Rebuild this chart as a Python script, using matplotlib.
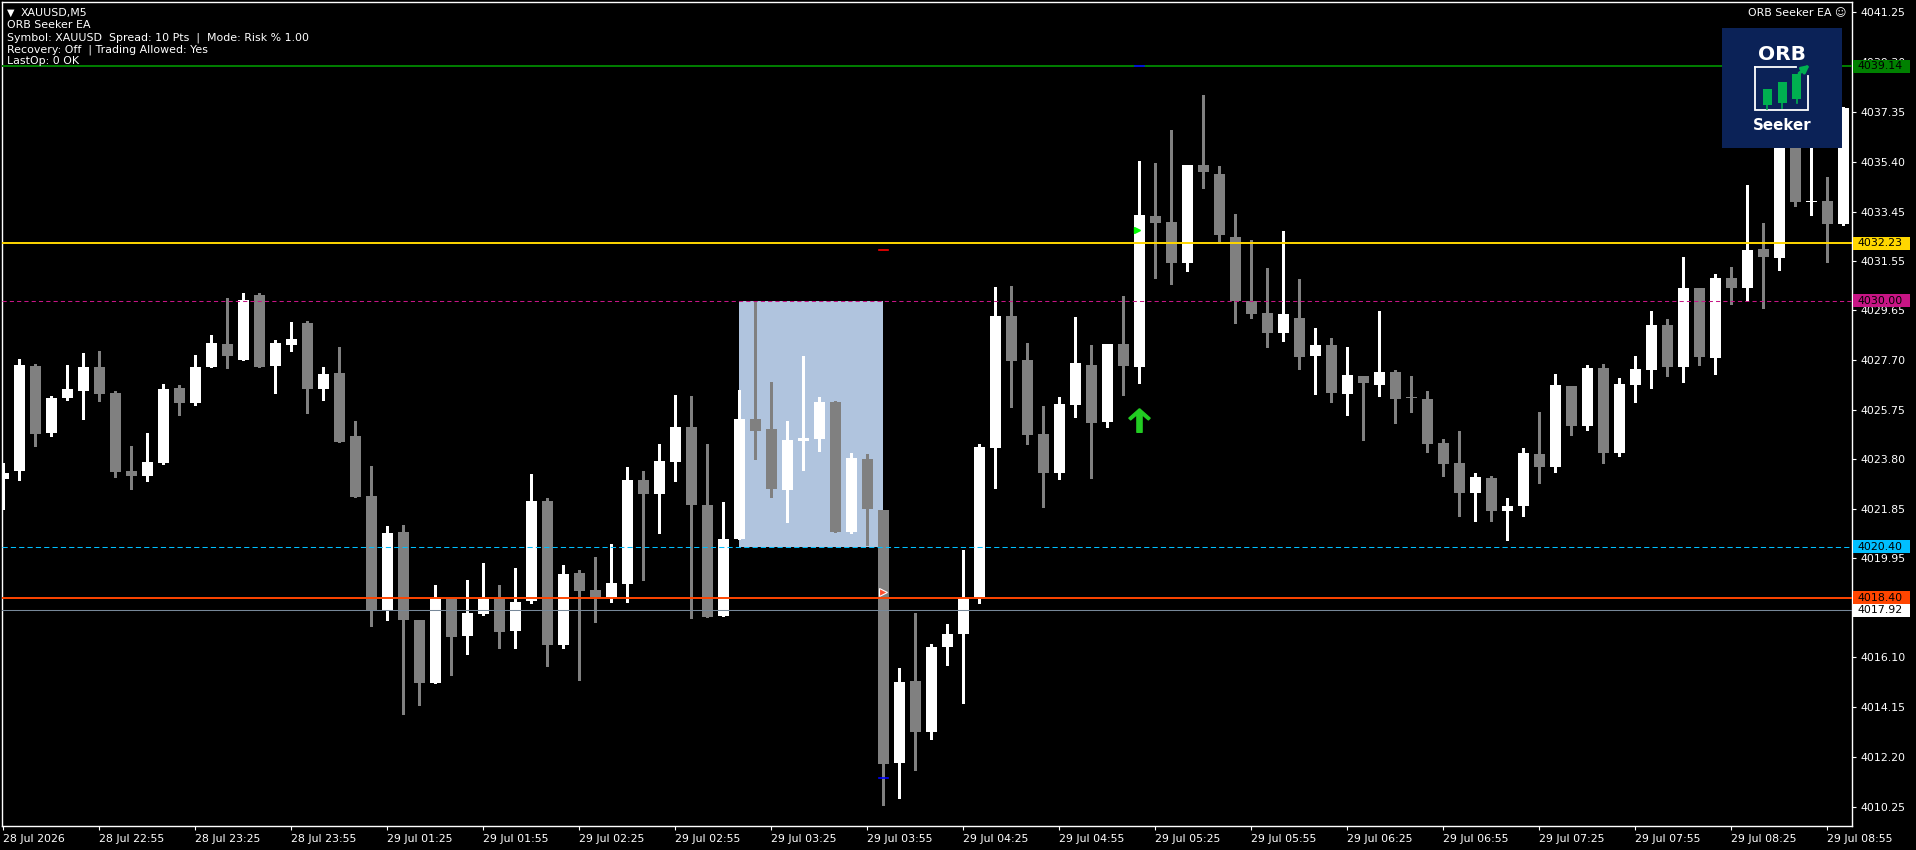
import matplotlib
matplotlib.use("Agg")
import matplotlib.pyplot as plt
import matplotlib.transforms as mtransforms
from matplotlib.patches import Rectangle
from matplotlib.path import Path
import numpy as np

# ---- chart data (XAUUSD M5) ----
opens = [4023.05, 4023.36, 4027.44, 4024.84, 4026.20, 4026.48, 4027.40, 4026.39, 4023.35, 4023.17,
         4023.67, 4026.58, 4026.01, 4027.40, 4028.30, 4027.67, 4030.22, 4027.44, 4028.26, 4029.11,
         4026.54, 4027.17, 4024.71, 4022.37, 4017.92, 4020.97, 4017.54, 4015.09, 4018.36, 4016.93,
         4017.79, 4018.39, 4017.12, 4018.26, 4022.19, 4016.58, 4019.38, 4018.71, 4018.42, 4018.96,
         4023.01, 4022.46, 4023.72, 4025.07, 4022.04, 4017.71, 4020.68, 4025.39, 4024.99, 4022.62,
         4024.54, 4024.61, 4026.05, 4020.99, 4023.83, 4021.83, 4011.97, 4015.16, 4013.15, 4016.47,
         4017.00, 4018.36, 4024.26, 4029.40, 4027.69, 4024.80, 4023.29, 4025.94, 4027.49, 4025.28,
         4028.31, 4027.39, 4033.30, 4033.07, 4031.48, 4035.29, 4034.94, 4032.48, 4029.97, 4029.52,
         4028.74, 4029.32, 4027.84, 4028.27, 4026.37, 4027.06, 4026.72, 4027.20, 4026.20, 4026.16,
         4024.45, 4023.67, 4022.50, 4023.08, 4021.79, 4021.99, 4024.02, 4023.51, 4026.67, 4025.11,
         4027.37, 4024.06, 4026.71, 4027.29, 4029.05, 4027.41, 4030.49, 4027.76, 4030.88, 4030.49,
         4032.02, 4031.66, 4036.90, 4033.84, 4033.89, 4032.99]
highs = [4023.65, 4027.71, 4027.52, 4026.27, 4027.48, 4027.95, 4028.02, 4026.46, 4024.32, 4024.82,
         4026.74, 4026.70, 4027.87, 4028.65, 4030.10, 4030.30, 4030.30, 4028.45, 4029.15, 4029.19,
         4027.40, 4028.18, 4025.30, 4023.54, 4021.20, 4021.24, 4017.54, 4018.91, 4018.36, 4019.10,
         4019.76, 4018.90, 4019.57, 4023.24, 4022.30, 4019.68, 4019.48, 4020.00, 4020.50, 4023.51,
         4023.35, 4024.40, 4026.32, 4026.28, 4024.40, 4022.14, 4026.51, 4030.00, 4026.83, 4025.31,
         4027.84, 4026.24, 4026.09, 4024.06, 4024.02, 4021.83, 4015.67, 4017.82, 4016.60, 4017.40,
         4020.27, 4024.41, 4030.53, 4030.57, 4028.35, 4025.89, 4026.24, 4029.36, 4028.27, 4028.31,
         4030.18, 4035.45, 4035.37, 4036.66, 4035.29, 4038.02, 4035.25, 4033.38, 4032.37, 4031.27,
         4032.72, 4030.85, 4028.93, 4028.54, 4028.19, 4027.06, 4029.60, 4027.29, 4027.06, 4026.48,
         4024.60, 4024.91, 4023.28, 4023.16, 4022.30, 4024.25, 4025.66, 4027.14, 4026.67, 4027.49,
         4027.53, 4026.98, 4027.84, 4029.60, 4029.28, 4031.70, 4030.49, 4031.04, 4031.31, 4034.51,
         4033.03, 4037.60, 4037.90, 4036.30, 4034.83, 4037.55]
lows = [4021.88, 4023.00, 4024.33, 4024.72, 4026.13, 4025.39, 4026.09, 4023.13, 4022.66, 4022.97,
        4023.63, 4025.53, 4025.93, 4027.40, 4027.36, 4027.67, 4027.40, 4026.40, 4028.02, 4025.61,
        4026.11, 4024.48, 4022.33, 4017.31, 4017.54, 4013.88, 4014.23, 4015.09, 4015.40, 4016.22,
        4017.74, 4016.46, 4016.46, 4018.19, 4015.75, 4016.46, 4015.18, 4017.46, 4018.24, 4018.24,
        4019.11, 4020.95, 4022.98, 4017.63, 4017.67, 4017.71, 4020.68, 4023.83, 4022.32, 4021.38,
        4023.40, 4024.14, 4020.99, 4020.95, 4020.45, 4010.32, 4010.59, 4011.67, 4012.90, 4015.80,
        4014.30, 4018.20, 4022.67, 4025.86, 4024.42, 4021.96, 4023.02, 4025.47, 4023.06, 4025.08,
        4026.33, 4026.80, 4030.90, 4030.66, 4031.17, 4034.41, 4032.34, 4029.14, 4029.34, 4028.17,
        4028.44, 4027.35, 4026.37, 4026.06, 4025.55, 4024.58, 4026.29, 4025.24, 4025.67, 4024.11,
        4023.17, 4021.61, 4021.40, 4021.40, 4020.66, 4021.60, 4022.89, 4023.32, 4024.76, 4024.95,
        4023.67, 4023.94, 4026.05, 4026.59, 4027.06, 4026.83, 4027.49, 4027.14, 4029.87, 4029.99,
        4029.71, 4031.20, 4033.69, 4033.34, 4031.51, 4032.95]
closes = [4023.27, 4027.48, 4024.79, 4026.19, 4026.54, 4027.40, 4026.36, 4023.31, 4023.17, 4023.70,
          4026.54, 4026.01, 4027.40, 4028.33, 4027.83, 4030.02, 4027.40, 4028.33, 4028.49, 4026.54,
          4027.13, 4024.48, 4022.33, 4017.92, 4020.93, 4017.54, 4015.09, 4018.36, 4016.89, 4017.80,
          4018.37, 4017.08, 4018.24, 4022.19, 4016.55, 4019.34, 4018.68, 4018.42, 4018.98, 4023.01,
          4022.46, 4023.75, 4025.07, 4022.01, 4017.67, 4020.71, 4025.39, 4024.92, 4022.66, 4024.57,
          4024.65, 4026.05, 4020.99, 4023.87, 4021.88, 4011.92, 4015.12, 4013.15, 4016.47, 4017.00,
          4018.40, 4024.30, 4029.40, 4027.66, 4024.77, 4023.29, 4025.97, 4027.57, 4025.24, 4028.31,
          4027.43, 4033.34, 4033.04, 4031.48, 4035.29, 4035.03, 4032.56, 4030.00, 4029.49, 4028.74,
          4029.48, 4027.80, 4028.27, 4026.40, 4027.10, 4026.79, 4027.22, 4026.16, 4026.18, 4024.41,
          4023.63, 4022.50, 4023.12, 4021.79, 4021.99, 4024.06, 4023.51, 4026.71, 4025.11, 4027.37,
          4024.06, 4026.75, 4027.33, 4029.05, 4027.41, 4030.49, 4027.80, 4030.88, 4030.49, 4031.98,
          4031.70, 4037.00, 4033.85, 4033.88, 4032.99, 4037.52]

time_tick_idx = [0, 6, 12, 18] + list(range(24, 115, 6))
time_tick_labels = ["28 Jul 2026", "28 Jul 22:55", "28 Jul 23:25", "28 Jul 23:55",
                    "29 Jul 01:25", "29 Jul 01:55", "29 Jul 02:25", "29 Jul 02:55",
                    "29 Jul 03:25", "29 Jul 03:55", "29 Jul 04:25", "29 Jul 04:55",
                    "29 Jul 05:25", "29 Jul 05:55", "29 Jul 06:25", "29 Jul 06:55",
                    "29 Jul 07:25", "29 Jul 07:55", "29 Jul 08:25", "29 Jul 08:55"]
price_ticks = [4041.25, 4039.30, 4037.35, 4035.40, 4033.45, 4031.55, 4029.65, 4027.70, 4025.75,
               4023.80, 4021.85, 4019.95, 4018.00, 4016.10, 4014.15, 4012.20, 4010.25]

# horizontal levels: price, colour, style, width, label box colour
level_prices = [4039.14, 4032.23, 4030.00, 4020.40, 4018.40, 4017.92]
level_colors = ["#008000", "#FFD700", "#C71585", "#00BFFF", "#FF4500", "#778899"]
level_styles = ["-", "-", (0, (4, 3)), (0, (5, 3)), "-", "-"]
level_widths = [1.4, 1.4, 0.75, 0.75, 1.4, 0.75]
level_boxes = ["#008000", "#FFD700", "#C71585", "#00BFFF", "#FF4500", "#FFFFFF"]

# opening range box
orb_start, orb_end = 46, 55
orb_high, orb_low = 4030.00, 4020.40

# trade markers
entry_idx, entry_price = 55, 4018.62
sl_idx, sl_price = 55, 4031.99
blue_idx = [55, 71]
blue_price = [4011.37, 4039.14]
signal_idx, signal_price = 71, 4025.35
tick_idx, tick_price = 71, 4032.75

info_lines = ["ORB Seeker EA",
              "Symbol: XAUUSD  Spread: 10 Pts  |  Mode: Risk % 1.00",
              "Recovery: Off  | Trading Allowed: Yes",
              "LastOp: 0 OK"]

W, H = 1916, 850
fig = plt.figure(figsize=(W / 100, H / 100), dpi=100, facecolor="black")
ax = fig.add_axes([2 / W, 24 / H, 1850 / W, 824 / H], facecolor="black")

o = np.array(opens); h = np.array(highs); l = np.array(lows); c = np.array(closes)
x = np.arange(len(o))
bull = c >= o
GRAY = "#808080"
cols = np.where(bull, "white", GRAY)

ax.vlines(x, l, h, colors=cols, lw=0.75, antialiased=False, zorder=2)
body_lo = np.minimum(o, c)
body_h = np.maximum(np.abs(c - o), 0.04)
ax.bar(x, body_h, bottom=body_lo, width=0.69, color=cols, linewidth=0,
       antialiased=False, zorder=3)

ax.add_patch(Rectangle((orb_start, orb_low), orb_end - orb_start, orb_high - orb_low,
                       facecolor="#B0C4DE", edgecolor="none", zorder=1))

for p, col, ls, lw in zip(level_prices, level_colors, level_styles, level_widths):
    ax.axhline(p, color=col, ls=ls, lw=lw, zorder=4)

# markers
ax.plot(entry_idx - 0.05, entry_price, marker=">", ms=6, color="#FF5030",
        mec="white", mew=0.8, zorder=6)
ax.plot([sl_idx - 0.3, sl_idx + 0.3], [sl_price, sl_price], color="red", lw=1.2, zorder=6)
for bi, bp in zip(blue_idx, blue_price):
    ax.plot([bi - 0.3, bi + 0.3], [bp, bp], color="#0000FF", lw=1.2, zorder=6)
ax.plot(tick_idx - 0.15, tick_price, marker=">", ms=5, color="#00FF00", zorder=6)
arrow = Path([(0, 1), (0.9, 0.2), (0.75, 0.05), (0.22, 0.5), (0.22, -1), (-0.22, -1),
              (-0.22, 0.5), (-0.75, 0.05), (-0.9, 0.2), (0, 1)])
ax.plot(signal_idx, signal_price, marker=arrow, ms=17, color="#22CC22", mec="#22CC22",
        zorder=6)

ax.set_xlim(-0.081, 115.54)
ax.set_ylim(4009.50, 4041.65)

for sp in ax.spines.values():
    sp.set_color("white")
    sp.set_linewidth(1)
ax.yaxis.tick_right()
ax.set_yticks(price_ticks)
ax.set_yticklabels(["%.2f" % v for v in price_ticks])
ax.set_xticks(time_tick_idx)
ax.set_xticklabels(time_tick_labels)
ax.tick_params(axis="y", colors="white", length=3, width=0.8, pad=3, labelsize=7.9)
ax.tick_params(axis="x", colors="white", length=3, width=0.8, pad=3, labelsize=7.9)
for lbl in ax.get_xticklabels():
    lbl.set_ha("left")

# price label boxes on the right scale
trans = mtransforms.blended_transform_factory(fig.transFigure, ax.transData)
unit = 824 / (4041.65 - 4009.50)
for p, bc in zip(level_prices, level_boxes):
    ax.add_patch(Rectangle((1853 / W, p - 6.5 / unit), 57 / W, 13 / unit, transform=trans,
                           facecolor=bc, edgecolor="none", clip_on=False, zorder=10))
    ax.text(1858 / W, p, "%.2f" % p, transform=trans, fontsize=7.9, color="black",
            ha="left", va="center", clip_on=False, zorder=11)

# info text
fig.text(7 / W, 1 - 12.5 / H, "\u25BC", fontsize=7, color="white", va="center")
fig.text(21 / W, 1 - 13 / H, "XAUUSD,M5", fontsize=7.9, color="white", va="center")
for i, line in enumerate(info_lines):
    fig.text(7 / W, 1 - (25.5 + 12 * i) / H, line, fontsize=7.9, color="white", va="center")
fig.text(1847 / W, 1 - 13 / H, "ORB Seeker EA \u263A", fontsize=7.9, color="white",
         ha="right", va="center")

# logo
lx = fig.add_axes([1722 / W, (H - 148) / H, 120 / W, 120 / H])
lx.set_xlim(0, 120)
lx.set_ylim(120, 0)
lx.set_axis_off()
lx.add_patch(Rectangle((0, 0), 120, 120, facecolor="#0B2257", edgecolor="none"))
lx.text(60, 27, "ORB", fontsize=14.5, fontweight="bold", color="white", ha="center", va="center")
lx.text(60, 97, "Seeker", fontsize=10.8, fontweight="bold", color="white", ha="center",
        va="center")
lx.plot([33, 33, 86, 86], [38.7, 82, 82, 48], color="white", lw=1.3, solid_joinstyle="miter")
lx.plot([33, 74], [38.7, 38.7], color="white", lw=1.3)
GREEN = "#00B050"
for cx, top, bot, wb in [(45.2, 61.3, 77, 81), (60, 54, 75, 80), (74.5, 46, 70.7, 75)]:
    lx.add_patch(Rectangle((cx - 4.5, top), 9, bot - top, facecolor=GREEN, edgecolor="none"))
    lx.plot([cx, cx], [bot, wb], color=GREEN, lw=1.2)
lx.annotate("", xy=(90, 35), xytext=(75, 47),
            arrowprops=dict(arrowstyle="-|>", color=GREEN, lw=2.2, mutation_scale=11))

fig.savefig("out.png", dpi=100, facecolor="black")
